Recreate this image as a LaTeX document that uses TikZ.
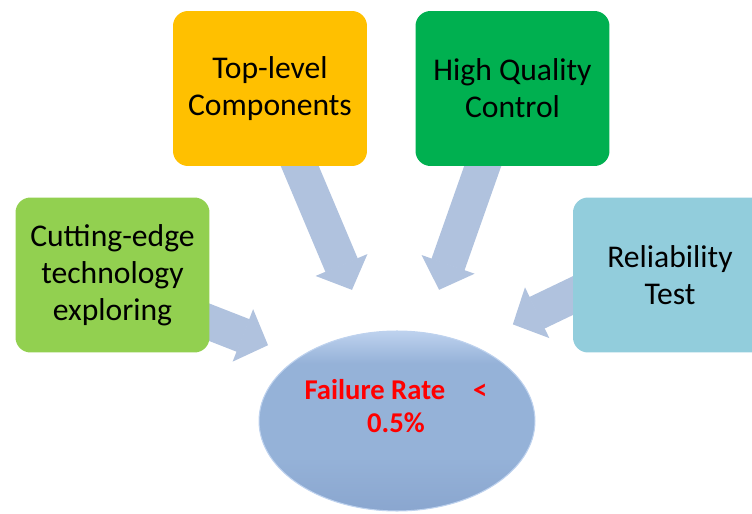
\documentclass[tikz,border=0pt]{standalone}
\usepackage{fontspec}
\setmainfont{Carlito}
\usetikzlibrary{shapes.geometric,arrows.meta,backgrounds}

\definecolor{cutgreen}{HTML}{92D050}
\definecolor{topyellow}{HTML}{FFC000}
\definecolor{hqcgreen}{HTML}{00B050}
\definecolor{relblue}{HTML}{92CDDC}
\definecolor{arrowblue}{RGB}{176,194,222}
\definecolor{ratetop}{RGB}{190,210,238}
\definecolor{ratemid}{RGB}{149,178,216}
\definecolor{ratebot}{RGB}{138,166,207}

\pgfdeclareverticalshading{ratefade}{100bp}{color(0bp)=(ratebot); color(25bp)=(ratebot);
  color(40bp)=(ratemid); color(66bp)=(ratemid); color(75bp)=(ratetop); color(100bp)=(ratetop)}

\begin{document}
\begin{tikzpicture}[x=0.02cm,y=-0.02cm]

        \clip (0,0) rectangle (752,514);

        \begin{scope}[every node/.style={rounded corners=0.3cm, minimum width=3.88cm, minimum height=3.1cm,
                      inner sep=0pt, align=center, font=\fontsize{18pt}{21pt}\selectfont}]
          \node[fill=cutgreen]  (cut) at (112.5,275) {Cutting-edge\\technology\\exploring};
          \node[fill=topyellow] (top) at (270,88.5)  {Top-level\\Components};
          \node[fill=hqcgreen]  (hqc) at (512.5,88.5) {High Quality\\Control};
          \node[fill=relblue]   (rel) at (670,275)   {Reliability\\Test};
        \end{scope}

        \node[ellipse, minimum width=5.52cm, minimum height=3.6cm, inner sep=0pt,
              shading=ratefade, draw=ratetop, line width=0.6pt] (rate) at (397,421) {};
        \node[text=red, align=center, font=\bfseries\fontsize{16.3pt}{18.5pt}\selectfont]
              (ratetext) at (396,406) {Failure Rate\hspace{0.56cm}<\\0.5\%};

        \begin{pgfonlayer}{background}
          \begin{scope}[every edge/.style={draw=arrowblue, line width=0.7cm, shorten <=-0.3cm,
                        -{Triangle[width=1.12cm, length=0.54cm, line width=1pt]}}]
            \path (cut.334.5) edge[shorten >=0.66cm] (rate.147.3);
            \path (top.291.5) edge[shorten >=0.92cm] (rate.107.4);
            \path (hqc.249.4) edge[shorten >=0.90cm] (rate.73.7);
            \path (rel.192.9) edge[shorten >=0.93cm] (rate.46.7);
          \end{scope}
        \end{pgfonlayer}

      \end{tikzpicture}
\end{document}
